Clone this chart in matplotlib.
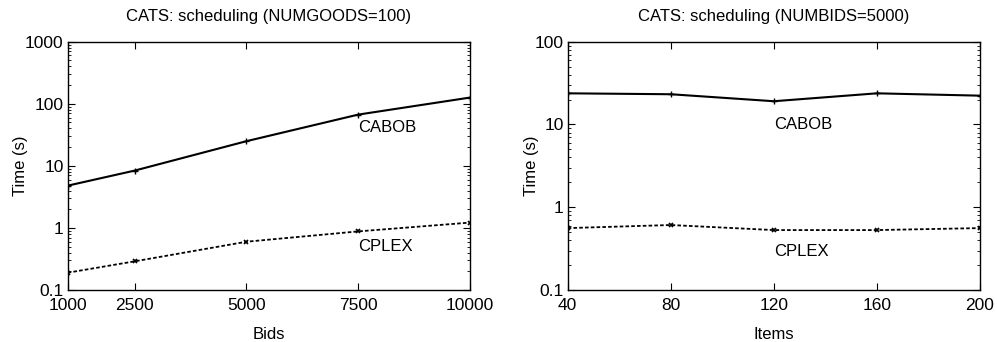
import numpy as np
import matplotlib.pyplot as plt
from matplotlib.ticker import LogLocator, FixedLocator, FuncFormatter, NullFormatter

plt.rcParams['font.family'] = ['Liberation Sans', 'DejaVu Sans']
plt.rcParams['font.size'] = 12

bids = [1000, 2500, 5000, 7500, 10000]
cabob_bids = [4.8, 8.4, 25, 67, 126]
cplex_bids = [0.19, 0.29, 0.60, 0.88, 1.22]

items = [40, 80, 120, 160, 200]
cabob_items = [23.8, 23.2, 19.1, 23.8, 22.3]
cplex_items = [0.56, 0.61, 0.53, 0.53, 0.56]

fig = plt.figure(figsize=(9.97, 3.42), dpi=100)
ax1 = fig.add_axes([0.0679, 0.152, 0.4035, 0.726])
ax2 = fig.add_axes([0.5694, 0.152, 0.4135, 0.726])

def fmt(v, pos):
    return ('%g' % v)

def style(ax, xs, ylim, ypad):
    ax.set_yscale('log')
    ax.set_ylim(*ylim)
    ax.set_xlim(xs[0], xs[-1])
    ax.xaxis.set_major_locator(FixedLocator(xs))
    ax.yaxis.set_major_locator(LogLocator(base=10))
    ax.yaxis.set_minor_locator(LogLocator(base=10, subs=np.arange(2, 10)))
    ax.yaxis.set_major_formatter(FuncFormatter(fmt))
    ax.yaxis.set_minor_formatter(NullFormatter())
    ax.tick_params(which='both', direction='in', top=True, right=True, labelsize=12.5)
    ax.tick_params(which='major', length=5, width=0.8)
    ax.tick_params(which='minor', length=2.5, width=0.6)
    ax.tick_params(axis='x', pad=6)
    ax.tick_params(axis='y', pad=3)
    ax.set_ylabel('Time (s)', fontsize=12, labelpad=ypad)
    for s in ax.spines.values():
        s.set_linewidth(1.0)

ax1.plot(bids, cabob_bids, color='black', lw=1.5, marker='+', ms=4, mew=1)
ax1.plot(bids, cplex_bids, color='black', lw=1.3, ls=(0, (2, 1.2)), marker='x', ms=3.5, mew=1.2)
style(ax1, bids, (0.1, 1000), -2)
ax1.set_xlabel('Bids', fontsize=12, labelpad=10)
ax1.set_title('CATS: scheduling (NUMGOODS=100)', fontsize=12, pad=15)
ax1.text(7500, 41, 'CABOB', ha='left', va='center', fontsize=12)
ax1.text(7500, 0.5, 'CPLEX', ha='left', va='center', fontsize=12)

ax2.plot(items, cabob_items, color='black', lw=1.5, marker='+', ms=4, mew=1)
ax2.plot(items, cplex_items, color='black', lw=1.3, ls=(0, (2, 1.2)), marker='x', ms=3.5, mew=1.2)
style(ax2, items, (0.1, 100), -3)
ax2.set_xlabel('Items', fontsize=12, labelpad=10)
ax2.set_title('CATS: scheduling (NUMBIDS=5000)', fontsize=12, pad=15)
ax2.text(120, 10, 'CABOB', ha='left', va='center', fontsize=12)
ax2.text(120, 0.29, 'CPLEX', ha='left', va='center', fontsize=12)

fig.savefig('out.png', dpi=100)
